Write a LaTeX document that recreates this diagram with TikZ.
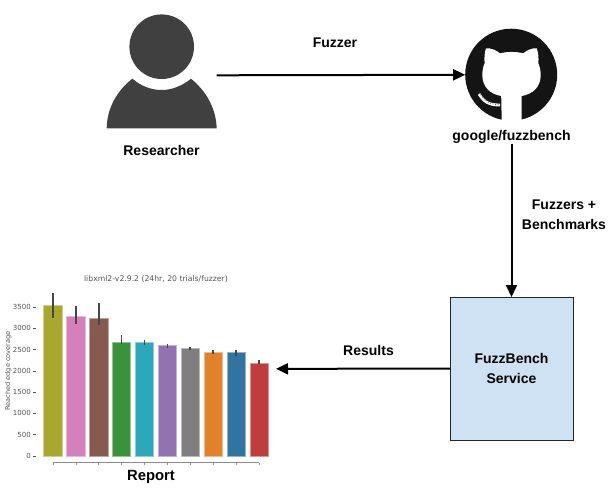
\documentclass[tikz,border=0pt]{standalone}
\usepackage{fontspec}
\setmainfont{Liberation Sans}
\newfontfamily\plotfont{DejaVu Sans}
\usetikzlibrary{arrows.meta}
\definecolor{iconGrey}{HTML}{404040}
\definecolor{serviceBlue}{HTML}{CFE2F3}
\definecolor{plotText}{HTML}{555555}
\definecolor{barOlive}{HTML}{A8A82E}
\definecolor{barPink}{HTML}{D57FBB}
\definecolor{barBrown}{HTML}{875A50}
\definecolor{barGreen}{HTML}{3A923A}
\definecolor{barTeal}{HTML}{2CA7B8}
\definecolor{barPurple}{HTML}{9372B2}
\definecolor{barGrey}{HTML}{7F7F7F}
\definecolor{barOrange}{HTML}{E1812C}
\definecolor{barBlue}{HTML}{3274A1}
\definecolor{barRed}{HTML}{C03D3E}
\tikzset{
    label text/.style={font=\bfseries\fontsize{14}{18}\selectfont, align=center, inner sep=0pt},
    plot text/.style={font=\plotfont\fontsize{7}{8}\selectfont, text=plotText, inner sep=0pt},
    flow/.style={-{Triangle[length=12pt,width=11pt]}, line width=2pt, black},
    hidden box/.style={inner sep=0pt, outer sep=0pt}
}
\begin{document}
\begin{tikzpicture}[x=1pt,y=-1pt]
    \useasboundingbox (0,0) rectangle (610,488);

    \fill[iconGrey] (161.7,46.7) circle [radius=32.3];
    \fill[iconGrey] (106.7,128.3) .. controls (107,107) and (118,90) .. (132.3,78.7)
        .. controls (141,86) and (151,90) .. (161.7,90)
        .. controls (172,90) and (182,86) .. (191,78.7)
        .. controls (205,90) and (216,107) .. (216.7,128.3) -- cycle;
    \node[hidden box, minimum width=110pt, minimum height=110pt] (researcher) at (161.7,75.4) {};
    \node[label text] (researcherlabel) at (161.5,150) {Researcher};

    \node[circle, fill=black!92, hidden box, minimum size=92pt] (github) at (511.2,74.7) {};
    \fill[white] (486,48.3) .. controls (491,48) and (496,50) .. (500,53.3)
        .. controls (507,51.5) and (516,51.5) .. (523.3,53.3)
        .. controls (527,50) and (532,48) .. (536.7,48.3)
        .. controls (538.5,53) and (538.8,58) .. (538.3,63.3)
        .. controls (540,67) and (540.7,71) .. (540.7,75)
        .. controls (540.7,87) and (533,94) .. (521.7,96)
        -- (521.7,121) -- (501.7,121) -- (501.2,96)
        .. controls (490,94) and (482.3,87) .. (482.3,75)
        .. controls (482.3,71) and (483,67) .. (484.6,63.3)
        .. controls (484.2,58) and (484.4,53) .. (486,48.3) -- cycle;
    \draw[white, line width=2.8pt] (479,94) .. controls (484,102) and (489,105) .. (500,105);
    \draw[black!70, line width=0.7pt, dash pattern=on 1pt off 1.6pt] (480.5,94.5) .. controls (485,101.5) and (490,104.5) .. (500,104.8);
    \node[label text] (githublabel) at (511.5,137) {google/fuzzbench};

    \node[draw=black!85, line width=1pt, fill=serviceBlue, hidden box, minimum width=123pt, minimum height=143pt,
        label text] (service) at (511.5,368.5) {FuzzBench\\[2pt]Service};

    \node[plot text, font=\plotfont\fontsize{7.7}{9}\selectfont] (plottitle) at (156,279.5) {libxml2-v2.9.2 (24hr, 20 trials/fuzzer)};
    \node[plot text, font=\plotfont\fontsize{6.6}{8}\selectfont, rotate=90] (plotylabel) at (8.3,371) {Reached edge coverage};
    \foreach \val/\ypos in {0/456, 500/434.7, 1000/413.4, 1500/392.1, 2000/370.8, 2500/349.6, 3000/328.3, 3500/307} {
        \draw[plotText, line width=0.5pt] (33,\ypos) -- (35.7,\ypos);
        \node[plot text, anchor=east] (tick\val) at (31,\ypos) {\val};
    }
    \foreach \i/\col/\topy/\errtop/\errbot in {0/barOlive/305.7/293.3/317.7, 1/barPink/316/305.7/324.3, 2/barBrown/318.3/303.3/325,
        3/barGreen/342/335/344, 4/barTeal/342.7/339.7/345, 5/barPurple/345.7/343.7/347.7, 6/barGrey/348.7/347/349.7,
        7/barOrange/352/349.7/353.7, 8/barBlue/352.7/350.3/356.3, 9/barRed/363.7/360.3/364.3} {
        \pgfmathsetmacro{\barleft}{43.7+22.9*\i}
        \pgfmathsetmacro{\barmid}{\barleft+9.15}
        \fill[\col, draw=\col!55!white, line width=0.6pt] (\barleft,456.3) rectangle (\barleft+18.3,\topy);
        \draw[black!72, line width=1.7pt] (\barmid,\errtop) -- (\barmid,\errbot);
        \draw[black!45, line width=0.5pt] (\barmid,462.7) -- (\barmid,465);
    }
    \draw[black!45, line width=0.5pt] (52.8,462.7) -- (258.9,462.7);
    \node[hidden box, minimum width=252pt, minimum height=1pt] (report) at (150,369) {};
    \node[label text, font=\bfseries\fontsize{14.8}{18}\selectfont] (reportlabel) at (151,477) {Report};

    \draw[flow] (researcher) -- (github);
    \draw[flow] (githublabel) -- (service);
    \draw[flow] (service) -- (report);
    \node[label text] (fuzzerlabel) at (335,43) {Fuzzer};
    \node[label text] (benchlabel) at (564,214.5) {Fuzzers +\\[2pt]Benchmarks};
    \node[label text] (resultslabel) at (368.5,350) {Results};
\end{tikzpicture}
\end{document}
